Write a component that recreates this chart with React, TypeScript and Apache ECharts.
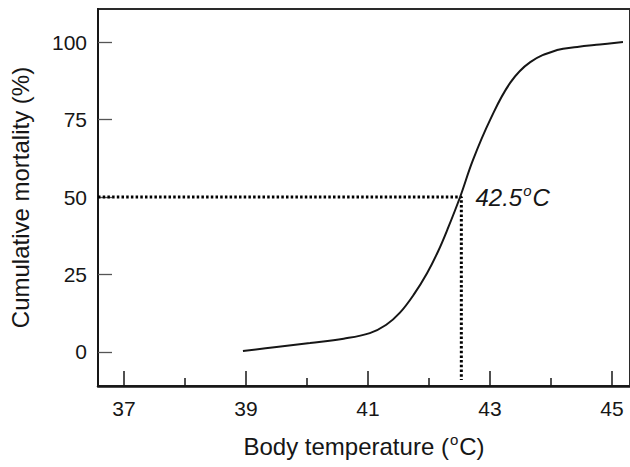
import React, { useEffect, useRef } from "react";
import * as echarts from "echarts";

// Data
const curveTemp = [38.95, 39.5, 40.05, 40.6, 41.03, 41.3, 41.52, 41.75, 41.97, 42.15, 42.3, 42.51, 42.72, 43.0, 43.33, 43.66, 44.1, 44.43, 44.8, 45.18];
const curveMortality = [0.3, 1.6, 2.9, 4.3, 6.1, 8.8, 12.6, 18.5, 25.5, 32.5, 39.4, 50, 61.9, 74.8, 86.8, 93.5, 97.4, 98.4, 99.2, 100];

const xMin = 36.574;
const xMax = 45.295;
const yMin = -10.97;
const yMax = 110.65;

const majorXTicks = [37, 39, 41, 43, 45];
const minorXTicks = [38, 40, 42, 44];
const yTicks = [0, 25, 50, 75, 100];

const refTemp = [xMin, 42.53, 42.53];
const refMortality = [50, 50, -9];
const lethalTemp = 42.5;
const lethalMortality = 50;

const FONT = '"Liberation Sans", Arial, Helvetica, sans-serif';
const INK = "#161616";

export default function App() {
  const ref = useRef<HTMLDivElement>(null);
  useEffect(() => {
    if (!ref.current) return;
    const chart = echarts.init(ref.current, null, { renderer: "svg" });
    const option: any = {
      animation: false,
      backgroundColor: "#ffffff",
      textStyle: { fontFamily: FONT },
      grid: {
        left: 98,
        top: 9,
        right: 0,
        bottom: 81,
        show: true,
        borderColor: "#2a2a2a",
        borderWidth: 2,
      },
      xAxis: [
        {
          type: "value",
          min: xMin,
          max: xMax,
          name: "{n|Body temperature (}{s|o}{n|C)}",
          nameLocation: "middle",
          nameGap: 46,
          nameTextStyle: {
            rich: {
              n: { fontSize: 24, fontFamily: FONT, color: INK, lineHeight: 28 },
              s: { fontSize: 15, fontFamily: FONT, color: INK, verticalAlign: "top", lineHeight: 28, padding: [0, 1, 8, 1] },
            },
          },
          axisLine: { onZero: false, lineStyle: { color: INK, width: 2.5 } },
          axisTick: { inside: true, length: 15, customValues: majorXTicks, lineStyle: { color: INK, width: 1.5 } },
          axisLabel: { customValues: majorXTicks, fontSize: 21, color: INK, margin: 12, fontFamily: FONT },
          splitLine: { show: false },
        },
        {
          type: "value",
          min: xMin,
          max: xMax,
          position: "bottom",
          axisLine: { show: false, onZero: false },
          axisTick: { inside: true, length: 8, customValues: minorXTicks, lineStyle: { color: INK, width: 1.5 } },
          axisLabel: { show: false },
          splitLine: { show: false },
        },
      ],
      yAxis: {
        type: "value",
        min: yMin,
        max: yMax,
        name: "Cumulative mortality (%)",
        nameLocation: "middle",
        nameGap: 66,
        nameTextStyle: { fontSize: 24, color: INK, fontFamily: FONT },
        axisLine: { onZero: false, lineStyle: { color: INK, width: 2 } },
        axisTick: { inside: true, length: 14, customValues: yTicks, lineStyle: { color: "#555", width: 1.3 } },
        axisLabel: { customValues: yTicks, fontSize: 21, color: INK, margin: 11, fontFamily: FONT },
        splitLine: { show: false },
      },
      series: [
        {
          type: "line",
          data: curveTemp.map((t, i) => [t, curveMortality[i]]),
          smooth: 0.4,
          showSymbol: false,
          lineStyle: { color: INK, width: 2 },
          z: 3,
        },
        {
          type: "line",
          data: refTemp.map((t, i) => [t, refMortality[i]]),
          showSymbol: false,
          lineStyle: { color: "#000", width: 3, type: [2.5, 2.2], cap: "butt" },
          z: 2,
        },
        {
          type: "scatter",
          data: [[lethalTemp, lethalMortality]],
          symbolSize: 0,
          itemStyle: { color: INK, opacity: 1 },
          label: {
            show: true,
            position: "right",
            distance: 16,
            color: INK,
            formatter: "{n|42.5}{s|o}{n|C}",
            rich: {
              n: { fontSize: 24, fontStyle: "italic", fontFamily: FONT, color: INK, lineHeight: 28 },
              s: { fontSize: 15, fontStyle: "italic", fontFamily: FONT, color: INK, verticalAlign: "top", lineHeight: 28, padding: [0, 1, 8, 1] },
            },
          },
          emphasis: { disabled: true },
          z: 4,
        },
      ],
    };
    chart.setOption(option);
    return () => chart.dispose();
  }, []);
  return <div ref={ref} style={{ position: "absolute", left: 0, top: 0, width: 630, height: 467 }} />;
}
